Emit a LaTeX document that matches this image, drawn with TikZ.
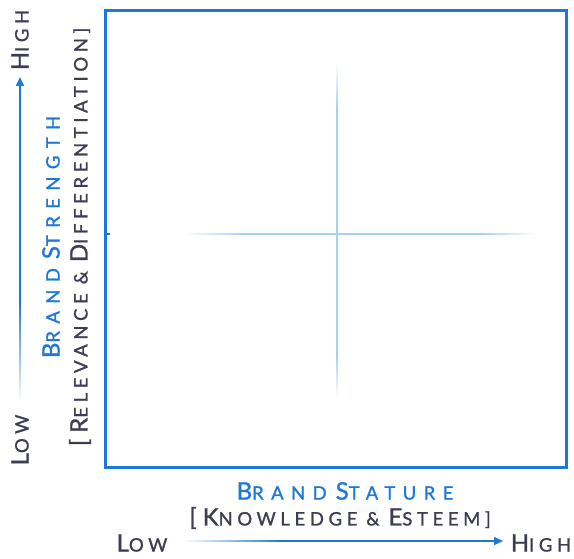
\documentclass[tikz,border=0pt]{standalone}
\usepackage{fontspec}
\newfontfamily\lsfont[LetterSpace=25,FakeBold=1.2]{Lato}
\newfontfamily\lsfontw[LetterSpace=40,FakeBold=1.2]{Lato}
\usetikzlibrary{arrows.meta}
\definecolor{mainblue}{HTML}{1E78D7}
\definecolor{crossblue}{HTML}{A8D0F2}
\definecolor{txtgray}{HTML}{3C3C52}
\newcommand\bigsc[2]{{\fontsize{24}{24}\selectfont #1}{\fontsize{18.5}{18.5}\selectfont #2}}
\newcommand\wsp{\hspace{9pt}}
\tikzset{
  gtext/.style={inner sep=0pt, text=txtgray, font=\lsfont},
  btext/.style={inner sep=0pt, text=mainblue, font=\lsfontw},
  axarrow/.style={line width=1.6pt, -{Triangle[length=9pt,width=8pt]}},
  xline/.style={line width=2.2pt},
  aline/.style={line width=1.6pt},
}
\begin{document}
\begin{tikzpicture}[x=1pt,y=-1pt]
\useasboundingbox (0,0) rectangle (574,559);
\fill[white] (0,0) rectangle (574,559);
% crosshair (segments fading to white at the ends)
\coordinate (cc) at (337,234);
\draw[xline, crossblue] (245,234) -- (480,234);
\draw[xline, crossblue] (337,110) -- (337,355);
\foreach \i in {0,...,19}{
  \pgfmathsetmacro{\p}{(\i+1)*5}
  \draw[xline, crossblue!\p!white] ({185+\i*3},234) -- ({185+(\i+1)*3+0.3},234);
  \draw[xline, crossblue!\p!white] ({537-\i*2.85},234) -- ({537-(\i+1)*2.85-0.3},234);
  \draw[xline, crossblue!\p!white] (337,{64+\i*2.3}) -- (337,{64+(\i+1)*2.3+0.3});
  \draw[xline, crossblue!\p!white] (337,{398-\i*2.15}) -- (337,{398-(\i+1)*2.15-0.3});
}
% frame
\draw[mainblue, line width=3pt] (105,11) rectangle (566,467);
\draw[mainblue, line width=2pt] (105,234) -- (110,234);
% bottom axis
\node[btext] (bs) at (345,491) {\bigsc{B}{RAND}\wsp\bigsc{S}{TATURE}};
\node[gtext] (ke) at (340,518) {\bigsc{[K}{NOWLEDGE}\wsp\bigsc{}{\&}\wsp\bigsc{E}{STEEM]}};
\node[gtext] (blow) at (142,543) {\bigsc{L}{OW}};
\node[gtext] (bhigh) at (541,543) {\bigsc{H}{IGH}};
\coordinate (bstart) at (185,541);
\coordinate (bend) at (503,541);
\foreach \i in {0,...,19}{
  \pgfmathsetmacro{\p}{(\i+1)*5}
  \draw[aline, mainblue!\p!white] ({185+\i*5},541) -- ({185+(\i+1)*5+0.3},541);
}
\draw[axarrow, mainblue] (285,541) -- (bend);
% left axis
\node[gtext, rotate=90] (lhigh) at (20,40) {\bigsc{H}{IGH}};
\node[gtext, rotate=90] (llow) at (20,440) {\bigsc{L}{OW}};
\coordinate (lstart) at (20,400);
\coordinate (lend) at (20,77);
\foreach \i in {0,...,19}{
  \pgfmathsetmacro{\p}{(\i+1)*5}
  \draw[aline, mainblue!\p!white] (20,{400-\i*5}) -- (20,{400-(\i+1)*5-0.3});
}
\draw[axarrow, mainblue] (20,300) -- (lend);
\node[btext, rotate=90] (bst) at (51,237) {\bigsc{B}{RAND}\wsp\bigsc{S}{TRENGTH}};
\node[gtext, rotate=90] (rd) at (80,237) {\bigsc{[R}{ELEVANCE}\wsp\bigsc{}{\&}\wsp\bigsc{D}{IFFERENTIATION]}};
\end{tikzpicture}
\end{document}
